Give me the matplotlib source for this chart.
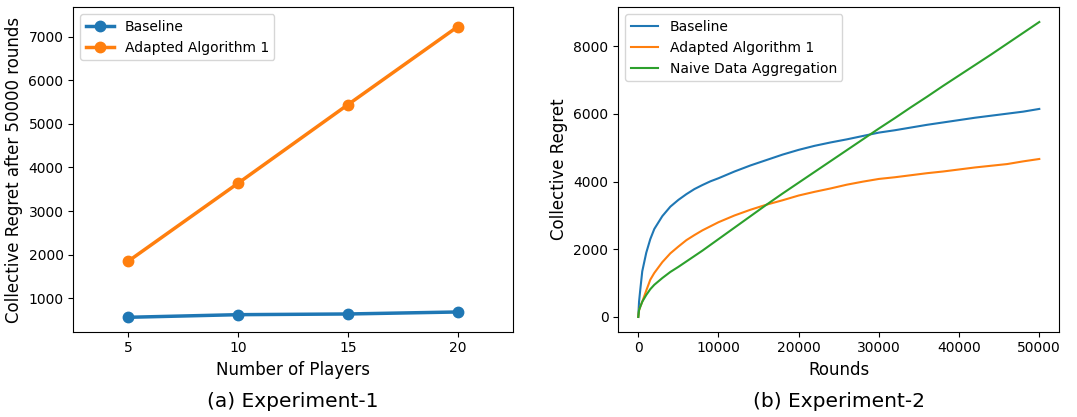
import matplotlib
matplotlib.use("Agg")
import matplotlib.pyplot as plt

# Experiment 1
players = [5, 10, 15, 20]
exp1_baseline = [564, 624, 640, 686]
exp1_adapted = [1849, 3638, 5440, 7229]

# Experiment 2 (rounds in thousands -> values)
rounds_k = [0, 0.1, 0.25, 0.5, 1, 1.5, 2, 3, 4, 5, 6, 7, 8, 9, 10, 12, 14, 16, 18, 20,
            22, 24, 26, 28, 30, 32, 34, 36, 38, 40, 42, 44, 46, 48, 50]
exp2_baseline = [0, 450, 800, 1350, 1900, 2300, 2600, 2980, 3260, 3460, 3630, 3780, 3900,
                 4010, 4100, 4300, 4480, 4640, 4800, 4940, 5060, 5160, 5250, 5350, 5450,
                 5520, 5600, 5680, 5750, 5820, 5890, 5950, 6010, 6070, 6150]
exp2_adapted = [0, 200, 300, 450, 780, 1100, 1300, 1620, 1880, 2080, 2270, 2420, 2560,
                2680, 2800, 3000, 3170, 3320, 3450, 3590, 3700, 3800, 3910, 4000, 4080,
                4130, 4190, 4250, 4300, 4360, 4420, 4470, 4520, 4600, 4670]
exp2_naive = [0, 200, 300, 450, 650, 820, 950, 1150, 1330, 1480, 1640, 1800, 1960,
              2130, 2300, 2640, 2980, 3320, 3650, 3970, 4290, 4610, 4930, 5250, 5570,
              5880, 6200, 6510, 6830, 7140, 7450, 7760, 8080, 8400, 8720]

rounds = [r * 1000 for r in rounds_k]

fig = plt.figure(figsize=(10.77, 4.17), dpi=100)
ax1 = fig.add_axes([0.068, 0.2046, 0.408, 0.778])
ax2 = fig.add_axes([0.574, 0.2046, 0.4096, 0.778])

ax1.plot(players, exp1_baseline, '-o', color='#1f77b4', lw=2.5, ms=7.5, label='Baseline')
ax1.plot(players, exp1_adapted, '-o', color='#ff7f0e', lw=2.5, ms=7.5, label='Adapted Algorithm 1')
ax1.set_xlim(2.5, 22.5)
ax1.set_ylim(234, 7674)
ax1.set_xticks([5, 10, 15, 20])
ax1.set_xlabel('Number of Players', fontsize=12)
ax1.set_ylabel('Collective Regret after 50000 rounds', fontsize=12)
ax1.tick_params(labelsize=10)
ax1.legend(loc='upper left', fontsize=10)

ax2.plot(rounds, exp2_baseline, color='#1f77b4', lw=1.5, label='Baseline')
ax2.plot(rounds, exp2_adapted, color='#ff7f0e', lw=1.5, label='Adapted Algorithm 1')
ax2.plot(rounds, exp2_naive, color='#2ca02c', lw=1.5, label='Naive Data Aggregation')
ax2.set_xticks([0, 10000, 20000, 30000, 40000, 50000])
ax2.set_yticks([0, 2000, 4000, 6000, 8000])
ax2.set_xlabel('Rounds', fontsize=12)
ax2.set_ylabel('Collective Regret', fontsize=12)
ax2.tick_params(labelsize=10)
ax2.legend(loc='upper left', fontsize=10)

fig.text(0.272, 0.037, '(a) Experiment-1', ha='center', va='center', fontsize=14.5)
fig.text(0.779, 0.037, '(b) Experiment-2', ha='center', va='center', fontsize=14.5)

fig.savefig('out.png', dpi=100)
